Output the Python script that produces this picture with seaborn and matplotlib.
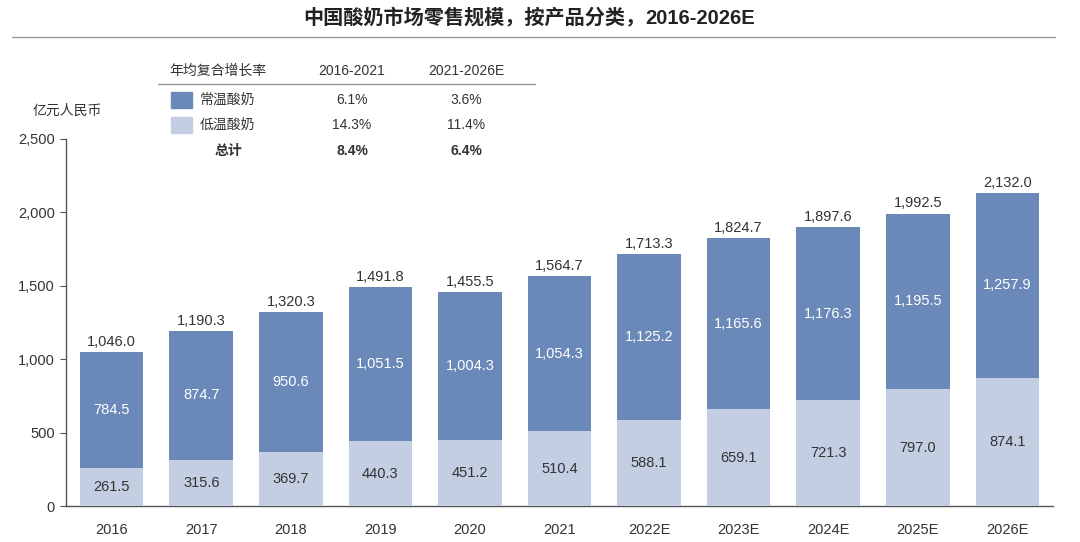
import matplotlib
matplotlib.use("Agg")
import matplotlib.pyplot as plt
import seaborn as sns
import pandas as pd
from matplotlib.lines import Line2D
from matplotlib.patches import Rectangle

years = ["2016", "2017", "2018", "2019", "2020", "2021", "2022E", "2023E", "2024E", "2025E", "2026E"]
ambient = [784.5, 874.7, 950.6, 1051.5, 1004.3, 1054.3, 1125.2, 1165.6, 1176.3, 1195.5, 1257.9]
chilled = [261.5, 315.6, 369.7, 440.3, 451.2, 510.4, 588.1, 659.1, 721.3, 797.0, 874.1]
totals = [1046.0, 1190.3, 1320.3, 1491.8, 1455.5, 1564.7, 1713.3, 1824.7, 1897.6, 1992.5, 2132.0]

series_names = ["常温酸奶", "低温酸奶"]
cagr_header = ["年均复合增长率", "2016-2021", "2021-2026E"]
cagr_ambient = ["6.1%", "3.6%"]
cagr_chilled = ["14.3%", "11.4%"]
cagr_total_label = "总计"
cagr_total = ["8.4%", "6.4%"]
title_cn = "中国酸奶市场零售规模，按产品分类，"
title_en = "2016-2026E"
unit = "亿元人民币"

sns.set_theme(style="white")
plt.rcParams['font.family'] = ['Noto Sans CJK SC', 'DejaVu Sans']

NUM = ["Liberation Sans", "DejaVu Sans"]
DARK = "#6a89b8"
LIGHT = "#c4cee3"
TXT = "#333333"

df = pd.DataFrame({"year": years, "ambient": ambient, "chilled": chilled, "total": totals})
df["stack"] = df["ambient"] + df["chilled"]

fig = plt.figure(figsize=(10.8, 5.42), dpi=100)
L, R, B, T = 66, 1053, 506, 139
ax = fig.add_axes([L/1080, 1-B/542, (R-L)/1080, (B-T)/542])

sns.barplot(data=df, x="year", y="stack", color=DARK, width=0.71, saturation=1, ax=ax,
            zorder=2, linewidth=0)
sns.barplot(data=df, x="year", y="chilled", color=LIGHT, width=0.71, saturation=1, ax=ax,
            zorder=3, linewidth=0)

fs_val = 10.5
for i in range(len(years)):
    ax.text(i, chilled[i] / 2, f"{chilled[i]:,.1f}", ha="center", va="center",
            fontsize=fs_val, color=TXT, family=NUM, zorder=5)
    ax.text(i, chilled[i] + ambient[i] / 2, f"{ambient[i]:,.1f}", ha="center", va="center",
            fontsize=fs_val, color="white", family=NUM, zorder=5)
    ax.text(i, totals[i] + 22, f"{totals[i]:,.1f}", ha="center", va="bottom",
            fontsize=fs_val, color=TXT, family=NUM, zorder=5)

ax.set_ylim(0, 2500)
ax.set_xlim(-0.51, 10.51)
ticks = [0, 500, 1000, 1500, 2000, 2500]
ax.set_yticks(ticks)
ax.set_yticklabels([f"{v:,}" for v in ticks], family=NUM)
ax.set_xlabel("")
ax.set_ylabel("")
for s in ["top", "right"]:
    ax.spines[s].set_visible(False)
for s in ["left", "bottom"]:
    ax.spines[s].set_color("#555555")
    ax.spines[s].set_linewidth(1.0)
ax.tick_params(axis="y", which="major", left=True, length=4, width=0.8, color="#555555",
               labelsize=10.5, labelcolor=TXT, pad=4)
ax.tick_params(axis="x", bottom=False, labelsize=10.5, labelcolor=TXT, pad=6)
for lab in ax.get_xticklabels():
    lab.set_family(NUM)

# title and rule
t1 = fig.text(303/1080, 1-18/542, title_cn, ha="left", va="center", fontsize=14.5,
              fontweight="bold", color="#222222")
fig.canvas.draw()
bb = t1.get_window_extent()
fig.text((bb.x1) / 1080, 1-18/542, title_en, ha="left", va="center", fontsize=14.5,
         fontweight="bold", color="#222222", family=NUM)
fig.add_artist(Line2D([12/1080, 1055/1080], [1-37/542, 1-37/542], color="#999999", lw=1.0))

# CAGR table
fs = 10
y_head = 1-71/542
fig.text(218/1080, y_head, cagr_header[0], ha="center", va="center", fontsize=fs, color=TXT)
fig.text(352/1080, y_head, cagr_header[1], ha="center", va="center", fontsize=fs, color=TXT, family=NUM)
fig.text(466/1080, y_head, cagr_header[2], ha="center", va="center", fontsize=fs, color=TXT, family=NUM)
fig.add_artist(Line2D([158/1080, 535/1080], [1-84/542, 1-84/542], color="#999999", lw=1.0))

rows = [(series_names[0], cagr_ambient, DARK), (series_names[1], cagr_chilled, LIGHT)]
row_y = [100, 125]
for (name, vals, col), yy in zip(rows, row_y):
    yf = 1-yy/542
    fig.add_artist(Rectangle((171/1080, yf - 8/542), 21/1080, 16/542, color=col,
                             transform=fig.transFigure))
    fig.text(200/1080, yf, name, ha="left", va="center", fontsize=fs, color=TXT)
    fig.text(352/1080, yf, vals[0], ha="center", va="center", fontsize=fs, color=TXT, family=NUM)
    fig.text(466/1080, yf, vals[1], ha="center", va="center", fontsize=fs, color=TXT, family=NUM)
yf = 1-151/542
fig.text(228/1080, yf, cagr_total_label, ha="center", va="center", fontsize=fs, color=TXT, fontweight="bold")
fig.text(352/1080, yf, cagr_total[0], ha="center", va="center", fontsize=fs, color=TXT, fontweight="bold", family=NUM)
fig.text(466/1080, yf, cagr_total[1], ha="center", va="center", fontsize=fs, color=TXT, fontweight="bold", family=NUM)

fig.text(67/1080, 1-111/542, unit, ha="center", va="center", fontsize=10, color=TXT)

fig.savefig("out.png", dpi=100, facecolor="white")
